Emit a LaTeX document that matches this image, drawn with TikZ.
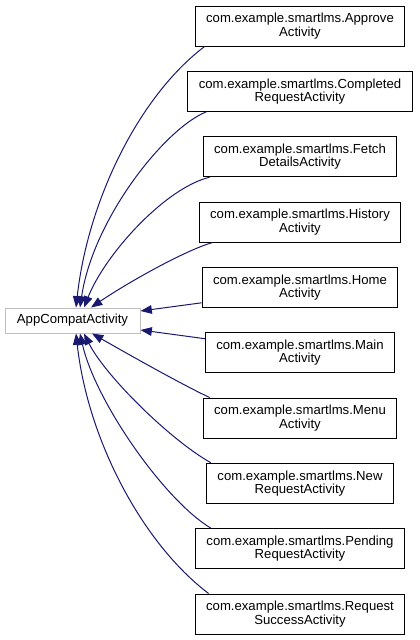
\documentclass[tikz,border=0pt]{standalone}
\usepackage{fontspec}
\setmainfont{Liberation Sans}
\usetikzlibrary{arrows.meta,calc}
\definecolor{edgeblue}{RGB}{25,25,112}
\definecolor{greyseventyfive}{RGB}{191,191,191}
\begin{document}
\begin{tikzpicture}[x=0.75pt,y=-0.75pt,
  cls/.style={draw=black, line width=0.75pt, fill=white, align=center,
    inner xsep=8.25pt, inner ysep=0pt, minimum height=30pt,
    font=\fontsize{9.86}{10}\selectfont},
  basecls/.style={draw=greyseventyfive, line width=0.75pt, fill=white,
    minimum width=101.25pt, minimum height=18.75pt, inner sep=0pt,
    font=\fontsize{9.86}{10}\selectfont},
  inh/.style={draw=edgeblue, line width=0.75pt,
    -{Triangle[length=8.5pt,width=6.5pt]}}]
\useasboundingbox (0,0) rectangle (419,640);

\node[basecls] (app) at (72.5,320.5) {AppCompatActivity};

\node[cls] (approve)   at (300,26)    {com.example.smartlms.Approve\\Activity};
\node[cls] (completed) at (300,91.3)  {com.example.smartlms.Completed\\RequestActivity};
\node[cls] (fetch)     at (300,156.7) {com.example.smartlms.Fetch\\DetailsActivity};
\node[cls] (history)   at (300,222)   {com.example.smartlms.History\\Activity};
\node[cls] (home)      at (300,287.3) {com.example.smartlms.Home\\Activity};
\node[cls] (main)      at (300,352.7) {com.example.smartlms.Main\\Activity};
\node[cls] (menu)      at (300,418)   {com.example.smartlms.Menu\\Activity};
\node[cls] (new)       at (300,483.3) {com.example.smartlms.New\\RequestActivity};
\node[cls] (pending)   at (300,548.7) {com.example.smartlms.Pending\\RequestActivity};
\node[cls] (request)   at (300,614)   {com.example.smartlms.Request\\SuccessActivity};

\draw[inh] ($(approve.south west)+(10,0)$) .. controls +(-65,49) and +(12,-108) .. ($(app.north)+(3.5,0)$);
\draw[inh] ($(completed.south west)+(19,0)$) .. controls +(-42,17) and +(13,-88) .. ($(app.north)+(7.5,0)$);
\draw[inh] ($(fetch.south west)+(7,0)$) .. controls +(-45,11) and +(21,-53) .. ($(app.north)+(11.5,0)$);
\draw[inh] ($(history.south west)+(14,0)$) .. controls +(-28,8) and +(37,-25) .. ($(app.north)+(18.5,0)$);
\draw[inh] ($(home.south west)+(0,-5)$) -- ($(app.east)+(0,-9.5)$);
\draw[inh] ($(main.north west)+(0,6.5)$) -- ($(app.east)+(0,9.5)$);
\draw[inh] ($(menu.north west)+(7,0)$) .. controls +(-30,-14) and +(28,16) .. ($(app.south)+(19.5,0)$);
\draw[inh] ($(new.north west)+(5,0)$) .. controls +(-41,-23) and +(21,42) .. ($(app.south)+(11.5,0)$);
\draw[inh] ($(pending.north west)+(16,0)$) .. controls +(-47,-28) and +(15,67) .. ($(app.south)+(7.5,0)$);
\draw[inh] ($(request.north west)+(14,0)$) .. controls +(-65,-49) and +(12,108) .. ($(app.south)+(3.5,0)$);
\end{tikzpicture}
\end{document}
